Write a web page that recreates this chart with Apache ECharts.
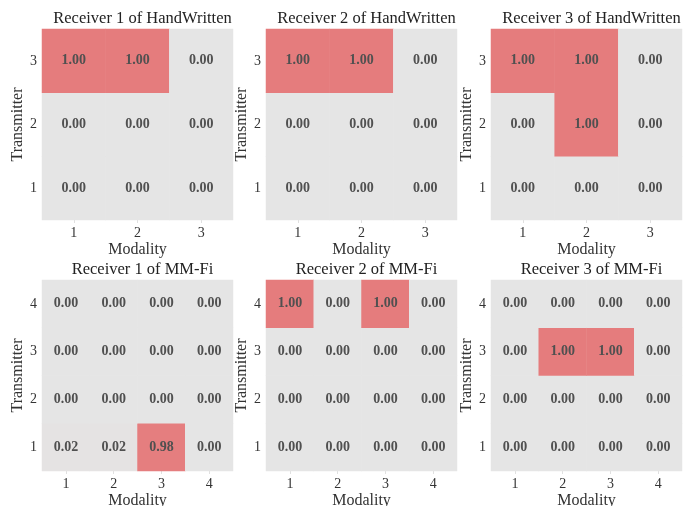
<!DOCTYPE html>
<html>
<head>
<meta charset="utf-8">
<script src="https://cdn.jsdelivr.net/npm/echarts@6/dist/echarts.min.js"></script>
<style>
  html, body { margin: 0; padding: 0; background: #fff; }
  #chart { width: 686px; height: 506px; }
</style>
</head>
<body>
<div id="chart"></div>
<script>
// Routing weights: rows = transmitter (1..n), columns = modality (1..n)
const hwTicks = ['1', '2', '3'];
const mmTicks = ['1', '2', '3', '4'];

const hwReceiver1 = [
  [0.00, 0.00, 0.00],
  [0.00, 0.00, 0.00],
  [1.00, 1.00, 0.00]
];
const hwReceiver2 = [
  [0.00, 0.00, 0.00],
  [0.00, 0.00, 0.00],
  [1.00, 1.00, 0.00]
];
const hwReceiver3 = [
  [0.00, 0.00, 0.00],
  [0.00, 1.00, 0.00],
  [1.00, 1.00, 0.00]
];
const mmReceiver1 = [
  [0.02, 0.02, 0.98, 0.00],
  [0.00, 0.00, 0.00, 0.00],
  [0.00, 0.00, 0.00, 0.00],
  [0.00, 0.00, 0.00, 0.00]
];
const mmReceiver2 = [
  [0.00, 0.00, 0.00, 0.00],
  [0.00, 0.00, 0.00, 0.00],
  [0.00, 0.00, 0.00, 0.00],
  [1.00, 0.00, 1.00, 0.00]
];
const mmReceiver3 = [
  [0.00, 0.00, 0.00, 0.00],
  [0.00, 0.00, 0.00, 0.00],
  [0.00, 1.00, 1.00, 0.00],
  [0.00, 0.00, 0.00, 0.00]
];

const panelTitles = [
  'Receiver 1 of HandWritten', 'Receiver 2 of HandWritten', 'Receiver 3 of HandWritten',
  'Receiver 1 of MM-Fi', 'Receiver 2 of MM-Fi', 'Receiver 3 of MM-Fi'
];
const panelData = [hwReceiver1, hwReceiver2, hwReceiver3, mmReceiver1, mmReceiver2, mmReceiver3];
const panelTicks = [hwTicks, hwTicks, hwTicks, mmTicks, mmTicks, mmTicks];

const SERIF = '"Liberation Serif", "DejaVu Serif", serif';
const lefts = [42, 266, 491];
const tops = [29, 280];
const SIZE = 191;

const grids = [], xAxes = [], yAxes = [], series = [], titles = [];
panelData.forEach((matrix, i) => {
  const col = i % 3, row = Math.floor(i / 3);
  const ticks = panelTicks[i];
  grids.push({ left: lefts[col], top: tops[row], width: SIZE, height: SIZE, outerBoundsMode: 'none', containLabel: false });
  titles.push({
    text: panelTitles[i],
    left: lefts[col] + SIZE / 2,
    top: tops[row] - 24,
    textAlign: 'center',
    textStyle: { fontFamily: SERIF, fontSize: 16.5, fontWeight: 'normal', color: '#222' }
  });
  xAxes.push({
    type: 'category', gridIndex: i, data: ticks,
    name: 'Modality', nameLocation: 'middle', nameGap: 22,
    nameTextStyle: { fontFamily: SERIF, fontSize: 16, color: '#333' },
    axisLine: { show: false },
    axisTick: { show: true, alignWithLabel: true, length: 3, lineStyle: { color: '#e0e0e0' } },
    axisLabel: { fontFamily: SERIF, fontSize: 14, color: '#333', margin: 6 },
    splitLine: { show: false }
  });
  yAxes.push({
    type: 'category', gridIndex: i, data: ticks,
    name: 'Transmitter', nameLocation: 'middle', nameGap: 16, nameRotate: 90,
    nameTextStyle: { fontFamily: SERIF, fontSize: 16, color: '#333' },
    axisLine: { show: false },
    axisTick: { show: false },
    axisLabel: { fontFamily: SERIF, fontSize: 14, color: '#333', margin: 5 },
    splitLine: { show: false }
  });
  const cells = [];
  matrix.forEach((rowVals, t) => {
    rowVals.forEach((v, m) => cells.push([m, t, v]));
  });
  series.push({
    type: 'heatmap', xAxisIndex: i, yAxisIndex: i, data: cells,
    label: {
      show: true,
      formatter: p => p.value[2].toFixed(2),
      fontFamily: SERIF, fontSize: 14, fontWeight: 'bold', color: '#505050'
    },
    itemStyle: { borderWidth: 0 },
    emphasis: { disabled: true }
  });
});

const chart = echarts.init(document.getElementById('chart'), null, { renderer: 'canvas' });
chart.setOption({
  animation: false,
  backgroundColor: '#fff',
  title: titles,
  grid: grids,
  xAxis: xAxes,
  yAxis: yAxes,
  visualMap: {
    show: false, type: 'continuous', min: 0, max: 1,
    seriesIndex: [0, 1, 2, 3, 4, 5],
    inRange: { color: ['#e5e5e5', '#e57c7d'] }
  },
  series: series
});
</script>
</body>
</html>
